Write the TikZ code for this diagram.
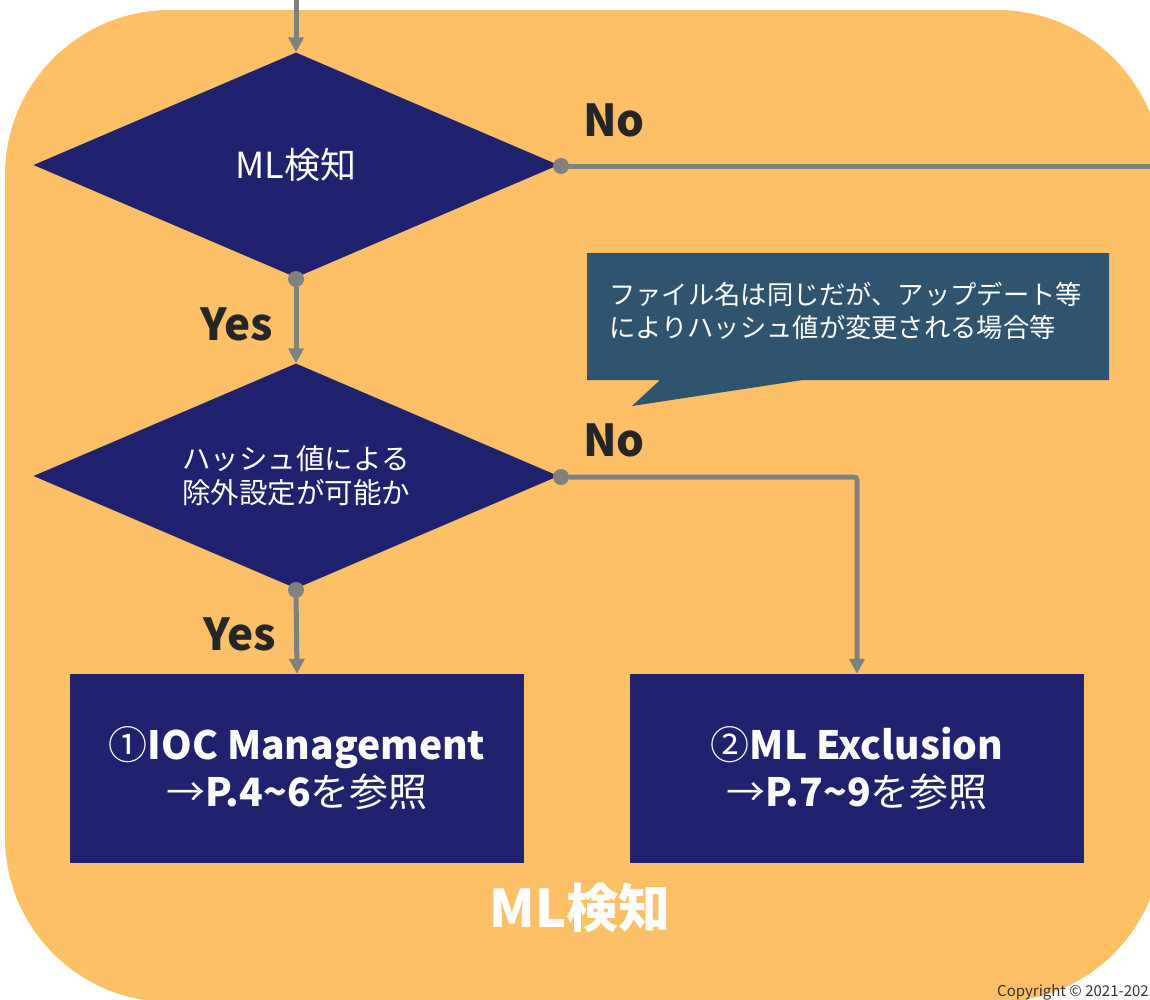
\documentclass[tikz,border=0pt]{standalone}
\usepackage{fontspec}
\setmainfont{Noto Sans CJK JP}
\usetikzlibrary{shapes.geometric,arrows.meta}
\definecolor{bgor}{HTML}{FDC066}
\definecolor{navy}{HTML}{20226F}
\definecolor{conn}{HTML}{808080}
\definecolor{callc}{HTML}{2E546F}
\definecolor{lbl}{HTML}{262626}
\definecolor{copyc}{HTML}{333333}
\begin{document}
\begin{tikzpicture}[x=1pt,y=-1pt,
  decision/.style={diamond, fill=navy, inner sep=0pt, minimum width=525pt, minimum height=225pt},
  result/.style={rectangle, fill=navy, inner sep=0pt, minimum width=454pt, minimum height=189pt, text=white, align=center, font=\fontsize{39}{47}\selectfont},
  yn/.style={text=lbl, font=\fontsize{44}{48}\selectfont\bfseries, inner sep=0pt},
  wire/.style={draw=conn, line width=5pt},
  arr/.style={wire, -{Triangle[width=15pt,length=15pt]}},
  dot/.style={circle, fill=conn, inner sep=0pt, minimum size=16pt},
]
\useasboundingbox (0,0) rectangle (1150,999);
\begin{scope}
\clip (0,0) rectangle (1150,999);
\fill[bgor, rounded corners=165pt] (5,10) rectangle (1162,1002);

% decisions
\node[decision] (d1) at (296,165) {};
\node[text=white, font=\fontsize{36}{40}\selectfont] at (d1.center) {ML検知};
\node[decision] (d2) at (296,476) {};
\node[text=white, align=center, font=\fontsize{28.5}{34}\selectfont] at (d2.center) {ハッシュ値による\\除外設定が可能か};

% result boxes
\node[result] (r1) at (297,768.5) {①\textbf{IOC Management}\\→\textbf{P.4\textasciitilde6}を参照};
\node[result] (r2) at (857,768.5) {②\textbf{ML Exclusion}\\→\textbf{P.7\textasciitilde9}を参照};

% connection points
\node[dot] (p1) at (561,166) {};
\node[dot] (p2) at (296,279) {};
\node[dot] (p3) at (561,477) {};
\node[dot] (p4) at (296,590) {};
\coordinate (topin) at (296,0);
\coordinate (outr) at (1150,166);
\coordinate (bend) at (857,477);

% connectors
\draw[arr] (topin) -- (d1.north);
\draw[wire] (p1) -- (outr);
\draw[arr] (p2) -- (d2.north);
\draw[arr, rounded corners=3pt] (p3) -- (bend) -- (r2.north);
\draw[arr] (p4) -- (r1.north);

% labels
\node[yn] at (614,120) {No};
\node[yn] at (237,324) {Yes};
\node[yn] at (614,440) {No};
\node[yn] at (240,634) {Yes};

% callout
\fill[callc] (587,253) -- (1109,253) -- (1109,380) -- (803,380) -- (632,406) -- (660,380) -- (587,380) -- cycle;
\node[text=white, align=left, anchor=north west, inner sep=0pt, font=\fontsize{26.3}{33}\selectfont] (co) at (609,282) {ファイル名は同じだが、アップデート等\\によりハッシュ値が変更される場合等};

% bottom title
\node[text=white, font=\fontsize{52}{56}\selectfont\bfseries] (title) at (580,908) {ML検知};

% copyright
\node[text=copyc, anchor=base west, inner sep=0pt, font=\fontsize{15}{18}\selectfont] (cp) at (997,996) {Copyright © 2021-2023};
\end{scope}
\end{tikzpicture}
\end{document}
